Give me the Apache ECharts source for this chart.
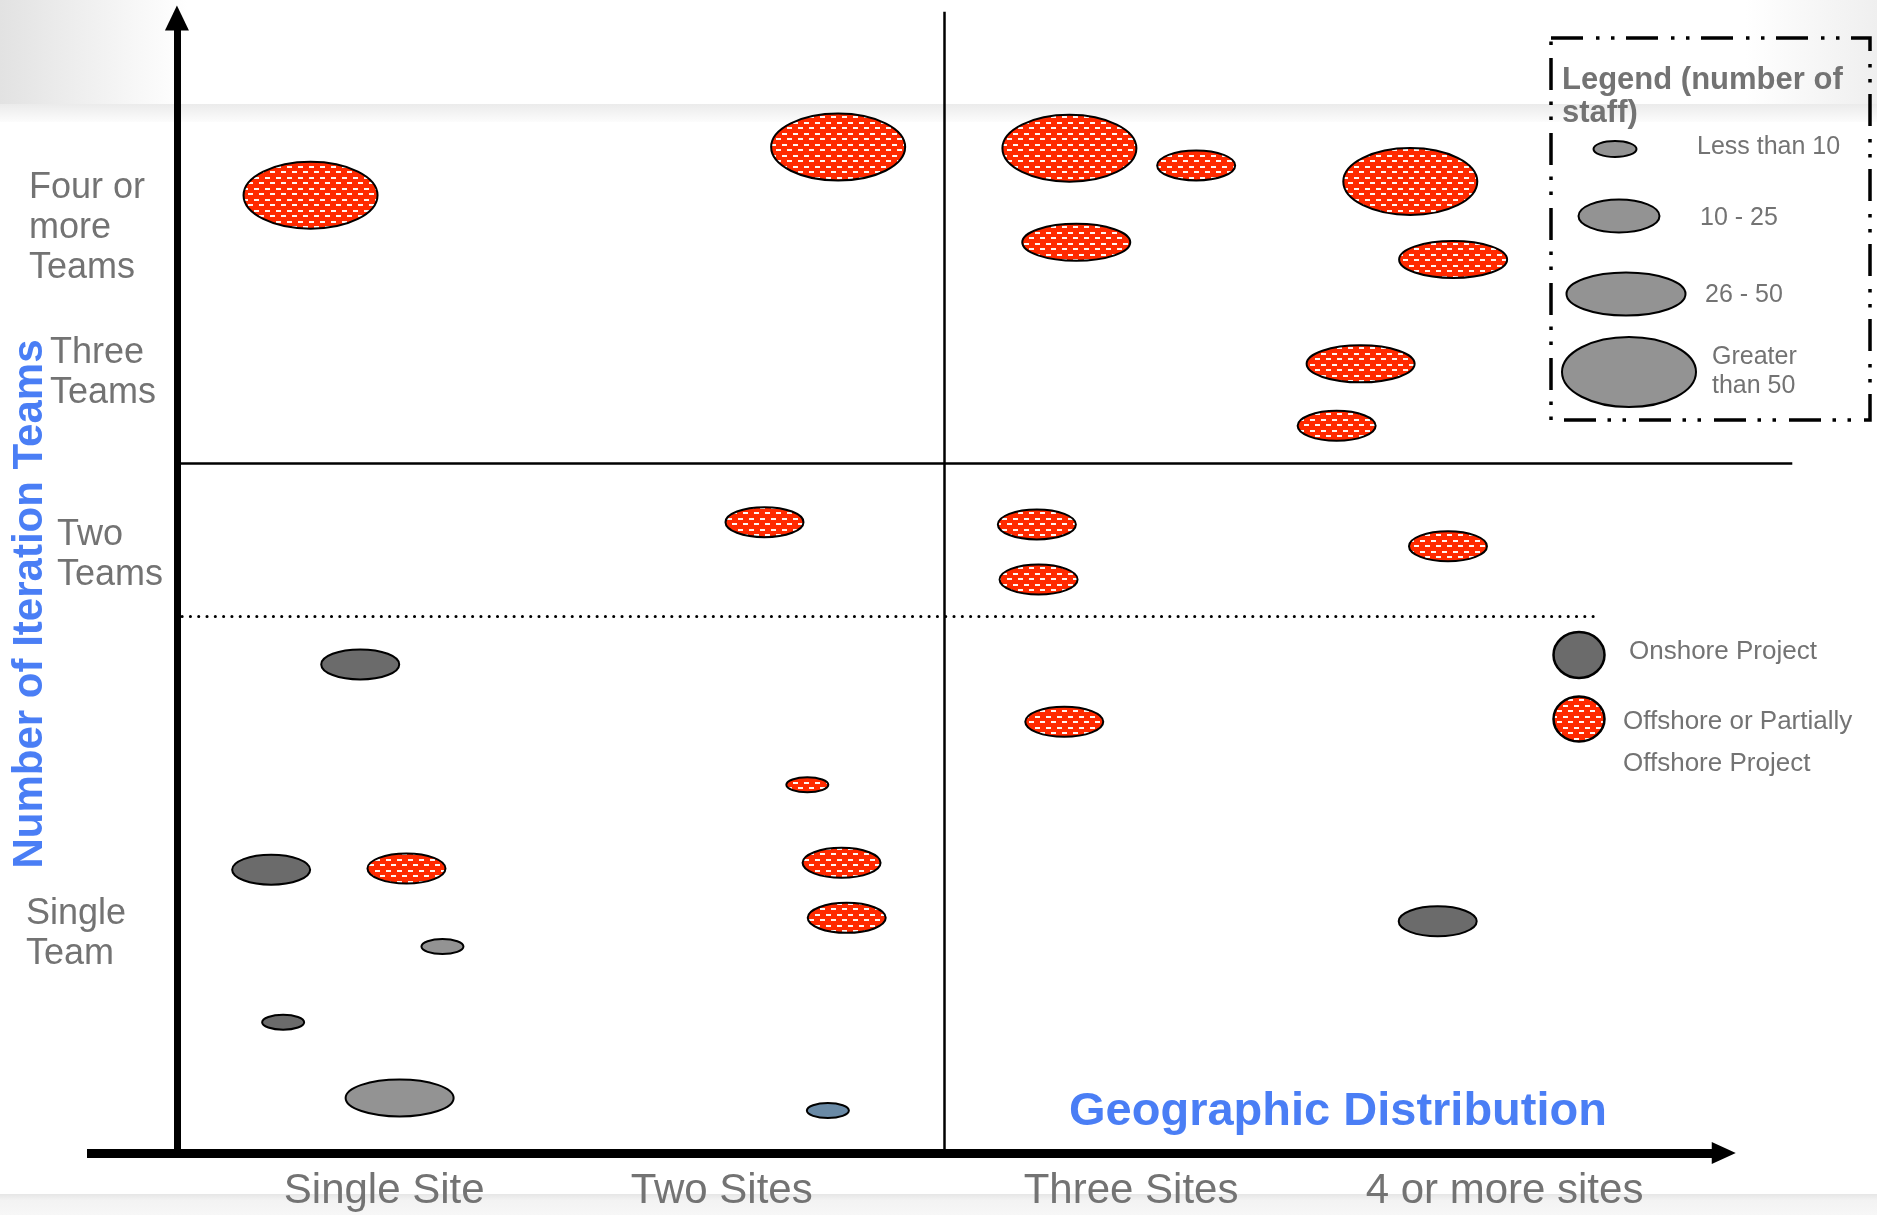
<!DOCTYPE html>
<html>
<head>
<meta charset="utf-8">
<title>Projects by geographic distribution and iteration teams</title>
<script src="https://cdn.jsdelivr.net/npm/echarts@6/dist/echarts.min.js"></script>
<style>
  html, body { margin: 0; padding: 0; background: #fff; }
  #chart { width: 1877px; height: 1215px; }
</style>
</head>
<body>
<div id="chart"></div>
<script>
// ---- data ----
const siteLabels = ['Single Site', 'Two Sites', 'Three Sites', '4 or more sites'];
const sitePos = [12.1, 31.8, 55.7, 77.5];
const teamLabels = [['Four or', 'more', 'Teams'], ['Three', 'Teams'], ['Two', 'Teams'], ['Single', 'Team']];
const teamPos = [80.6, 68.0, 52.1, 19.1];
const staffBands = ['Less than 10', '10 - 25', '26 - 50', 'Greater\nthan 50'];

// [distribution, teams, staff band]
const offshore = [
  [7.8, 83.5, 3], [38.6, 87.7, 3], [52.1, 87.6, 3], [59.5, 86.1, 1],
  [52.5, 79.4, 2], [72.0, 84.7, 3], [74.5, 77.9, 2], [69.1, 68.8, 2],
  [67.7, 63.4, 1], [34.3, 55.0, 1], [50.2, 54.8, 1], [50.3, 50.0, 1],
  [74.2, 52.9, 1], [51.8, 37.6, 1], [36.8, 32.1, 0], [38.8, 25.3, 1],
  [39.1, 20.5, 1], [13.4, 24.8, 1]
];
const onshore = [[10.7, 42.6, 1], [5.5, 24.7, 1], [6.2, 11.4, 0], [73.6, 20.2, 1]];
const onshoreLight = [[15.5, 18.0, 0], [13.0, 4.8, 2]];
const onshoreBlue = [[38.0, 3.7, 0]];

const quadrantX = 44.8;
const quadrantY = 60.1;
const dottedY = 46.8;

// ---- styles ----
const font = '"Liberation Sans", Arial, sans-serif';
const grey = '#737373';
const blue = '#4a7ef5';
const bandSize = [[42, 15], [78, 30], [108, 37], [134, 67]];

function makePattern() {
  const c = document.createElement('canvas');
  c.width = 11; c.height = 11;
  const ctx = c.getContext('2d');
  ctx.fillStyle = '#ff2a00';
  ctx.fillRect(0, 0, 11, 11);
  ctx.fillStyle = '#fff6f2';
  ctx.fillRect(1, 1, 5, 2);
  ctx.fillRect(6, 6, 5, 2);
  return c;
}
const redFill = { image: makePattern(), repeat: 'repeat' };

// ellipses drawn through the cartesian scales, sized by staff band
function projects(name, data, fill) {
  return {
    type: 'custom',
    name: name,
    data: data,
    silent: true,
    z: 3,
    renderItem: (params, api) => {
      const c = api.coord([api.value(0), api.value(1)]);
      const s = bandSize[api.value(2)];
      return {
        type: 'ellipse',
        shape: { cx: c[0], cy: c[1], rx: s[0] / 2, ry: s[1] / 2 },
        style: { fill: fill, stroke: '#000', lineWidth: 2 }
      };
    }
  };
}

function seg(from, to, style, arrow) {
  return [
    { coord: from, symbol: 'none', lineStyle: style },
    { coord: to, symbol: arrow ? 'triangle' : 'none', symbolSize: arrow || 1, lineStyle: style }
  ];
}

const chart = echarts.init(document.getElementById('chart'));

const option = {
  animation: false,
  backgroundColor: '#fff',
  grid: { left: 87, right: 77, top: 6, bottom: 62, outerBoundsMode: 'none' },
  xAxis: {
    type: 'value', min: -5.25, max: 94.75,
    axisLine: { show: false }, axisTick: { show: false }, splitLine: { show: false },
    axisLabel: {
      customValues: sitePos,
      formatter: v => siteLabels[sitePos.indexOf(v)],
      fontFamily: font, fontSize: 42, color: grey, margin: 17
    }
  },
  yAxis: {
    type: 'value', min: 0, max: 100,
    axisLine: { show: false }, axisTick: { show: false }, splitLine: { show: false },
    axisLabel: {
      customValues: teamPos,
      formatter: v => {
        const i = teamPos.indexOf(v);
        return teamLabels[i].map(s => '{t' + i + '|' + s + '}').join('\n');
      },
      align: 'left', margin: 61,
      fontFamily: font, fontSize: 36, color: grey, lineHeight: 40,
      rich: {
        t0: { padding: [0, 0, 0, 3], fontSize: 36, lineHeight: 40, color: grey, fontFamily: font },
        t1: { padding: [0, 0, 0, 24], fontSize: 36, lineHeight: 40, color: grey, fontFamily: font },
        t2: { padding: [0, 0, 0, 31], fontSize: 36, lineHeight: 40, color: grey, fontFamily: font },
        t3: { padding: [0, 0, 0, 0], fontSize: 36, lineHeight: 40, color: grey, fontFamily: font }
      }
    }
  },
  series: [
    {
      type: 'scatter', name: 'frame', data: [], silent: true,
      markLine: {
        silent: true, animation: false,
        label: { show: false },
        emphasis: { disabled: true },
        lineStyle: { color: '#000', type: 'solid' },
        data: [
          seg([-5.25, 0], [90.3, 0], { color: '#000', width: 9, type: 'solid' }, [22, 24]),
          seg([0, 0], [0, 98.95], { color: '#000', width: 7, type: 'solid' }, [24, 25]),
          seg([quadrantX, 0], [quadrantX, 99.5], { color: '#000', width: 2.5, type: 'solid' }),
          seg([0.2, quadrantY], [94.3, quadrantY], { color: '#000', width: 2.5, type: 'solid' }),
          seg([0.3, dottedY], [82.8, dottedY], { color: '#000', width: 3, type: [0.1, 8.2], cap: 'round' })
        ]
      }
    },
    projects('Offshore or Partially Offshore Project', offshore, redFill),
    projects('Onshore Project', onshore, '#6b6b6b'),
    projects('Onshore (light)', onshoreLight, '#939393'),
    projects('Onshore (blue)', onshoreBlue, '#6a8aa6')
  ],
  graphic: {
    elements: [
      // slide background bands
      {
        type: 'rect', z: -10, silent: true,
        shape: { x: 0, y: 0, width: 1877, height: 104 },
        style: {
          fill: new echarts.graphic.LinearGradient(0, 0, 1, 0, [
            { offset: 0, color: '#e2e2e2' },
            { offset: 0.075, color: '#f8f8f8' },
            { offset: 0.1, color: '#ffffff' },
            { offset: 0.93, color: '#ffffff' },
            { offset: 1, color: '#efefef' }
          ])
        }
      },
      {
        type: 'rect', z: -10, silent: true,
        shape: { x: 0, y: 104, width: 1877, height: 18 },
        style: {
          fill: new echarts.graphic.LinearGradient(0, 0, 0, 1, [
            { offset: 0, color: '#ebebeb' },
            { offset: 1, color: '#fcfcfc' }
          ])
        }
      },
      {
        type: 'rect', z: -10, silent: true,
        shape: { x: 0, y: 1194, width: 1877, height: 21 },
        style: {
          fill: new echarts.graphic.LinearGradient(0, 0, 0, 1, [
            { offset: 0, color: '#e6e6e6' },
            { offset: 0.3, color: '#f3f3f3' },
            { offset: 1, color: '#f7f7f7' }
          ])
        }
      },
      // axis titles
      {
        type: 'text', x: 30, y: 604, rotation: Math.PI / 2, z: 10,
        style: {
          text: 'Number of Iteration Teams', fill: blue,
          font: 'bold 42px ' + font, align: 'center', verticalAlign: 'middle'
        }
      },
      {
        type: 'text', x: 1338, y: 1112, z: 10,
        style: {
          text: 'Geographic Distribution', fill: blue,
          font: 'bold 47px ' + font, align: 'center', verticalAlign: 'middle'
        }
      },
      // staff size legend
      {
        type: 'rect', z: 10, silent: true,
        shape: { x: 1551, y: 38, width: 319, height: 382 },
        style: { fill: null, stroke: '#000', lineWidth: 3.5, lineDash: [32, 13, 3.5, 11.5, 3.5, 11.5] }
      },
      {
        type: 'text', x: 1562, y: 64, z: 10,
        style: {
          text: 'Legend (number of\nstaff)', fill: grey, font: 'bold 31px ' + font,
          lineHeight: 33, align: 'left', verticalAlign: 'top'
        }
      },
      ...[[1615, 149, 21.5, 8], [1619, 216, 40.5, 16.5], [1626, 294, 59.5, 21.5], [1629, 372, 67, 35]].map(e => ({
        type: 'ellipse', z: 10, silent: true,
        shape: { cx: e[0], cy: e[1], rx: e[2], ry: e[3] },
        style: { fill: '#939393', stroke: '#000', lineWidth: 2 }
      })),
      ...[[1697, 147], [1700, 218], [1705, 295], [1712, 372]].map((p, i) => ({
        type: 'text', x: p[0], y: p[1], z: 10,
        style: {
          text: staffBands[i], fill: grey, font: '25px ' + font, lineHeight: 29,
          align: 'left', verticalAlign: 'middle'
        }
      })),
      // project type legend
      {
        type: 'ellipse', z: 10, silent: true,
        shape: { cx: 1579, cy: 655, rx: 25.5, ry: 23 },
        style: { fill: '#6b6b6b', stroke: '#000', lineWidth: 2.5 }
      },
      {
        type: 'ellipse', z: 10, silent: true,
        shape: { cx: 1579, cy: 719, rx: 25.5, ry: 22.5 },
        style: { fill: redFill, stroke: '#000', lineWidth: 2.5 }
      },
      {
        type: 'text', x: 1629, y: 652, z: 10,
        style: { text: 'Onshore Project', fill: grey, font: '26px ' + font, align: 'left', verticalAlign: 'middle' }
      },
      {
        type: 'text', x: 1623, y: 722, z: 10,
        style: { text: 'Offshore or Partially', fill: grey, font: '26px ' + font, align: 'left', verticalAlign: 'middle' }
      },
      {
        type: 'text', x: 1623, y: 764, z: 10,
        style: { text: 'Offshore Project', fill: grey, font: '26px ' + font, align: 'left', verticalAlign: 'middle' }
      }
    ]
  }
};

chart.setOption(option);
</script>
</body>
</html>
